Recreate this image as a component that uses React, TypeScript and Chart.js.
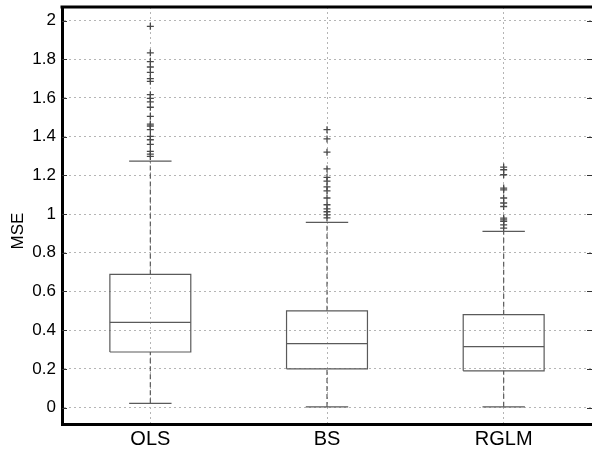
import React, { useEffect, useRef } from "react";
import { Chart, registerables } from "chart.js";

Chart.register(...registerables);

const CATEGORIES = ["OLS", "BS", "RGLM"];
const LOWER_WHISKER = [0.022, 0.003, 0.004];
const Q1 = [0.287, 0.2, 0.19];
const MEDIAN = [0.44, 0.33, 0.315];
const Q3 = [0.688, 0.5, 0.48];
const UPPER_WHISKER = [1.274, 0.957, 0.91];
const OUTLIERS_OLS = [1.97, 1.833, 1.788, 1.76, 1.732, 1.7, 1.686, 1.617, 1.598, 1.58, 1.552, 1.505, 1.465, 1.455, 1.436, 1.401, 1.384, 1.36, 1.324, 1.31, 1.298];
const OUTLIERS_BS = [1.436, 1.388, 1.32, 1.233, 1.19, 1.17, 1.14, 1.12, 1.083, 1.048, 1.027, 1.012, 0.996, 0.98];
const OUTLIERS_RGLM = [1.243, 1.229, 1.203, 1.134, 1.125, 1.083, 1.057, 1.039, 0.979, 0.97, 0.962, 0.944, 0.927];
const OUTLIERS = [OUTLIERS_OLS, OUTLIERS_BS, OUTLIERS_RGLM];
const Y_TICKS = [0, 0.2, 0.4, 0.6, 0.8, 1, 1.2, 1.4, 1.6, 1.8, 2];
const Y_MIN = -0.085;
const Y_MAX = 2.07;
const Y_TITLE = "MSE";

const BOX_HALF = 0.229;
const CAP_HALF = 0.12;
const LINE_COLOR = "#5a5a5a";
const FONT = "'Liberation Sans', Arial, Helvetica, sans-serif";

export default function App() {
  const ref = useRef<HTMLCanvasElement | null>(null);

  useEffect(() => {
    document.body.style.margin = "0";
    const canvas = ref.current;
    if (!canvas) return;

    const datasets: any[] = [];
    CATEGORIES.forEach((_, i) => {
      const x = i + 1;
      const base = { showLine: true, pointRadius: 0, borderColor: LINE_COLOR, borderWidth: 1.2, fill: false, tension: 0 };
      datasets.push({ ...base, borderDash: [5, 3], data: [{ x, y: Q3[i] }, { x, y: UPPER_WHISKER[i] }] });
      datasets.push({ ...base, borderDash: [5, 3], data: [{ x, y: LOWER_WHISKER[i] }, { x, y: Q1[i] }] });
      datasets.push({ ...base, data: [{ x: x - CAP_HALF, y: UPPER_WHISKER[i] }, { x: x + CAP_HALF, y: UPPER_WHISKER[i] }] });
      datasets.push({ ...base, data: [{ x: x - CAP_HALF, y: LOWER_WHISKER[i] }, { x: x + CAP_HALF, y: LOWER_WHISKER[i] }] });
      datasets.push({
        ...base,
        data: [
          { x: x - BOX_HALF, y: Q1[i] },
          { x: x + BOX_HALF, y: Q1[i] },
          { x: x + BOX_HALF, y: Q3[i] },
          { x: x - BOX_HALF, y: Q3[i] },
          { x: x - BOX_HALF, y: Q1[i] },
        ],
      });
      datasets.push({ ...base, data: [{ x: x - BOX_HALF, y: MEDIAN[i] }, { x: x + BOX_HALF, y: MEDIAN[i] }] });
      datasets.push({
        showLine: false,
        pointStyle: "cross",
        pointRadius: 3.5,
        pointBorderWidth: 1.3,
        borderColor: "#4a4a4a",
        backgroundColor: "#4a4a4a",
        data: OUTLIERS[i].map((y) => ({ x, y })),
      });
    });

    const framePlugin = {
      id: "frame",
      afterDraw(chart: any) {
        const { ctx, chartArea, scales } = chart;
        ctx.save();
        ctx.strokeStyle = "#000";
        ctx.lineWidth = 3;
        ctx.beginPath();
        ctx.moveTo(chartArea.left - 1.5, chartArea.top);
        ctx.lineTo(chartArea.right, chartArea.top);
        ctx.stroke();
        ctx.lineWidth = 1;
        ctx.strokeStyle = "#333";
        Y_TICKS.forEach((v) => {
          const y = Math.round(scales.y.getPixelForValue(v)) + 0.5;
          ctx.beginPath();
          ctx.moveTo(chartArea.left, y);
          ctx.lineTo(chartArea.left + 5, y);
          ctx.moveTo(chartArea.right - 5, y);
          ctx.lineTo(chartArea.right, y);
          ctx.stroke();
        });
        ctx.fillStyle = "#000";
        ctx.font = `17px ${FONT}`;
        ctx.textAlign = "center";
        ctx.textBaseline = "middle";
        ctx.translate(18, 231);
        ctx.rotate(-Math.PI / 2);
        ctx.fillText(Y_TITLE, 0, 0);
        ctx.restore();
      },
    };

    const chart = new Chart(canvas, {
      type: "scatter",
      data: { datasets },
      options: {
        animation: false,
        responsive: false,
        layout: { autoPadding: false, padding: { top: 7, right: 0, bottom: 0, left: 0 } },
        plugins: { legend: { display: false }, tooltip: { enabled: false } },
        scales: {
          x: {
            type: "linear",
            min: 0.5,
            max: 3.5,
            afterBuildTicks: (scale: any) => {
              scale.ticks = CATEGORIES.map((_, i) => ({ value: i + 1 }));
            },
            afterFit: (scale: any) => {
              scale.height = 27;
              scale.paddingLeft = 0;
              scale.paddingRight = 0;
            },
            ticks: {
              callback: (v: any) => CATEGORIES[Math.round(Number(v)) - 1] ?? "",
              color: "#000",
              font: { family: FONT, size: 20 },
              padding: 3,
              maxRotation: 0,
              autoSkip: false,
            },
            grid: { color: "#b5b5b5", lineWidth: 1, drawTicks: false },
            border: { display: true, color: "#000", width: 3, dash: [2, 3] },
          },
          y: {
            type: "linear",
            min: Y_MIN,
            max: Y_MAX,
            afterBuildTicks: (scale: any) => {
              scale.ticks = Y_TICKS.map((v) => ({ value: v }));
            },
            afterFit: (scale: any) => {
              scale.width = 62;
              scale.paddingTop = 0;
              scale.paddingBottom = 0;
            },
            ticks: {
              callback: (v: any) => String(Number(Number(v).toFixed(1))),
              color: "#000",
              font: { family: FONT, size: 17 },
              padding: 6,
            },
            grid: { color: "#b5b5b5", lineWidth: 1, drawTicks: false },
            border: { display: true, color: "#000", width: 3, dash: [2, 3] },
          },
        },
      },
      plugins: [framePlugin],
    });

    return () => chart.destroy();
  }, []);

  return (
    <div style={{ width: 592, height: 451, background: "#fff" }}>
      <canvas ref={ref} width={592} height={451} style={{ display: "block" }} />
    </div>
  );
}
